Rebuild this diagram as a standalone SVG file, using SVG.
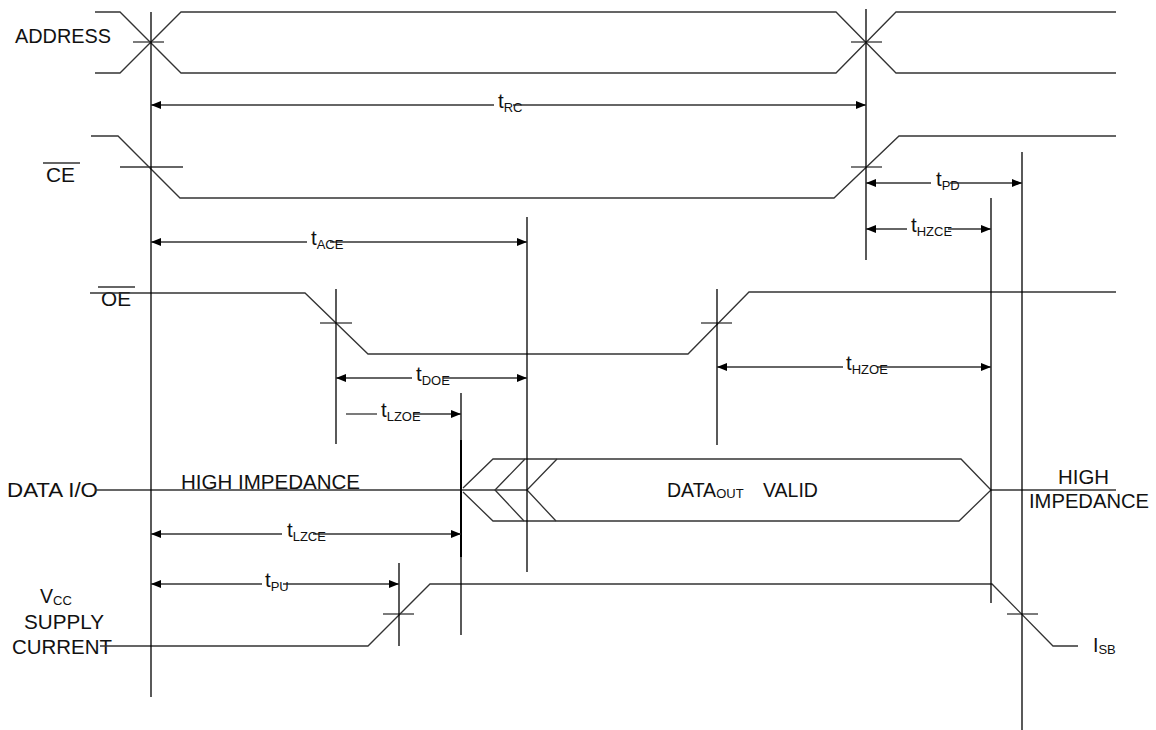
<svg xmlns="http://www.w3.org/2000/svg" width="1156" height="730" viewBox="0 0 1156 730">
<defs>
<marker id="ah" viewBox="0 0 10 8" refX="10" refY="4" markerWidth="10" markerHeight="8" markerUnits="userSpaceOnUse" orient="auto-start-reverse">
<path d="M0,0 L10,4 L0,8 z" fill="#000"/>
</marker>
<style>
.sig{stroke:#333;stroke-width:1.3;fill:none}
.tick{stroke:#333;stroke-width:1.3}
.v{stroke:#000;stroke-width:1.3}
.dim{stroke:#333;stroke-width:1.3}
.ds{marker-start:url(#ah)}
.de{marker-end:url(#ah)}
text{font-family:"Liberation Sans",Arial,Helvetica,sans-serif;fill:#111}
.lbl{font-size:19.5px}
.t{font-size:20.5px}
.sub{font-size:13px}
</style>
</defs>
<rect width="1156" height="730" fill="#fff"/>

<g id="address">
<text class="lbl" x="15" y="43" textLength="96" lengthAdjust="spacingAndGlyphs">ADDRESS</text>
<path class="sig" d="M95,12 H120 L181,73 H836 L896,12 H1116"/>
<path class="sig" d="M95,73 H120 L181,12 H836 L896,73 H1116"/>
<line class="tick" x1="133" y1="42" x2="164" y2="42"/>
<line class="tick" x1="851" y1="42" x2="882" y2="42"/>
</g>

<g id="ce">
<text class="lbl" x="46" y="182" textLength="29" lengthAdjust="spacingAndGlyphs">CE</text>
<line class="tick" x1="43" y1="163" x2="80" y2="163"/>
<path class="sig" d="M91,136 H118 L180,198 H834 L899,136 H1116"/>
<line class="tick" x1="120" y1="167" x2="183" y2="167"/>
<line class="tick" x1="851" y1="167" x2="882" y2="167"/>
</g>

<g id="oe">
<text class="lbl" x="101" y="306" textLength="30" lengthAdjust="spacingAndGlyphs">OE</text>
<line class="tick" x1="98" y1="287" x2="135" y2="287"/>
<path class="sig" d="M90,293 H305 L368,354 H688 L749,292 H1116"/>
<line class="tick" x1="320" y1="323" x2="352" y2="323"/>
<line class="tick" x1="701" y1="323" x2="732" y2="323"/>
</g>

<g id="data-io">
<text class="lbl" x="7" y="497" textLength="91" lengthAdjust="spacingAndGlyphs">DATA I/O</text>
<text class="lbl" x="181" y="489" textLength="179" lengthAdjust="spacingAndGlyphs">HIGH IMPEDANCE</text>
<line class="sig" x1="95" y1="490" x2="527" y2="490"/>
<path class="sig" d="M463,488 L493,459 H961 L991,490 L959,521 H493 L463,492"/>
<path class="sig" d="M525,459 L495,490 L524,521"/>
<path class="sig" d="M557,459 L527,490 L556,521"/>
<text class="lbl" x="667" y="497">DATA<tspan class="sub" dy="1">OUT</tspan></text>
<text class="lbl" x="763" y="497">VALID</text>
<line class="sig" x1="991" y1="490" x2="1116" y2="490"/>
<text class="lbl" x="1058" y="484" textLength="51" lengthAdjust="spacingAndGlyphs">HIGH</text>
<text class="lbl" x="1029" y="508" textLength="120" lengthAdjust="spacingAndGlyphs">IMPEDANCE</text>
</g>

<g id="vcc">
<text class="lbl" x="40" y="603">V<tspan class="sub" dy="2">CC</tspan></text>
<text class="lbl" x="24" y="629" textLength="80" lengthAdjust="spacingAndGlyphs">SUPPLY</text>
<text class="lbl" x="12" y="654" textLength="100" lengthAdjust="spacingAndGlyphs">CURRENT</text>
<path class="sig" d="M100,646 H368 L430,584 H992 L1053,646 H1078"/>
<line class="tick" x1="383" y1="614" x2="414" y2="614"/>
<line class="tick" x1="1007" y1="614" x2="1038" y2="614"/>
<text class="lbl" x="1093" y="652">I<tspan class="sub" dy="2">SB</tspan></text>
</g>

<g id="connectors">
<line class="v" x1="151" y1="12" x2="151" y2="697"/>
<line class="v" x1="866" y1="9" x2="866" y2="260"/>
<line class="v" x1="527" y1="217" x2="527" y2="572"/>
<line class="v" x1="1022" y1="152" x2="1022" y2="730"/>
<line class="v" x1="991" y1="198" x2="991" y2="603"/>
<line class="v" x1="336" y1="289" x2="336" y2="444"/>
<line class="v" x1="717" y1="289" x2="717" y2="445"/>
<line class="v" x1="461" y1="393" x2="461" y2="635"/>
<line class="v" x1="461" y1="440" x2="461" y2="557" style="stroke-width:2"/>
<line class="v" x1="399" y1="563" x2="399" y2="646"/>

<line class="dim ds" x1="151" y1="105" x2="494" y2="105"/>
<line class="dim de" x1="513" y1="105" x2="866" y2="105"/>
<text class="t" x="498" y="108">t<tspan class="sub" dy="4">RC</tspan></text>

<line class="dim ds" x1="151" y1="242" x2="307" y2="242"/>
<line class="dim de" x1="330" y1="242" x2="527" y2="242"/>
<text class="t" x="311" y="245">t<tspan class="sub" dy="4">ACE</tspan></text>

<line class="dim ds" x1="866" y1="183" x2="931" y2="183"/>
<line class="dim de" x1="950" y1="183" x2="1022" y2="183"/>
<text class="t" x="936" y="186">t<tspan class="sub" dy="4">PD</tspan></text>

<line class="dim ds" x1="866" y1="229" x2="907" y2="229"/>
<line class="dim de" x1="948" y1="229" x2="991" y2="229"/>
<text class="t" x="911" y="232">t<tspan class="sub" dy="4">HZCE</tspan></text>

<line class="dim ds" x1="336" y1="378" x2="412" y2="378"/>
<line class="dim de" x1="443" y1="378" x2="527" y2="378"/>
<text class="t" x="416" y="381">t<tspan class="sub" dy="4">DOE</tspan></text>

<line class="dim" x1="346" y1="414" x2="377" y2="414"/>
<line class="dim de" x1="413" y1="414" x2="461" y2="414"/>
<text class="t" x="381" y="417">t<tspan class="sub" dy="4">LZOE</tspan></text>

<line class="dim ds" x1="717" y1="367" x2="843" y2="367"/>
<line class="dim de" x1="877" y1="367" x2="991" y2="367"/>
<text class="t" x="846" y="370">t<tspan class="sub" dy="4">HZOE</tspan></text>

<line class="dim ds" x1="151" y1="534" x2="282" y2="534"/>
<line class="dim de" x1="313" y1="534" x2="461" y2="534"/>
<text class="t" x="287" y="537">t<tspan class="sub" dy="4">LZCE</tspan></text>

<line class="dim ds" x1="151" y1="584" x2="262" y2="584"/>
<line class="dim de" x1="283" y1="584" x2="399" y2="584"/>
<text class="t" x="265" y="587">t<tspan class="sub" dy="4">PU</tspan></text>
</g>
</svg>
